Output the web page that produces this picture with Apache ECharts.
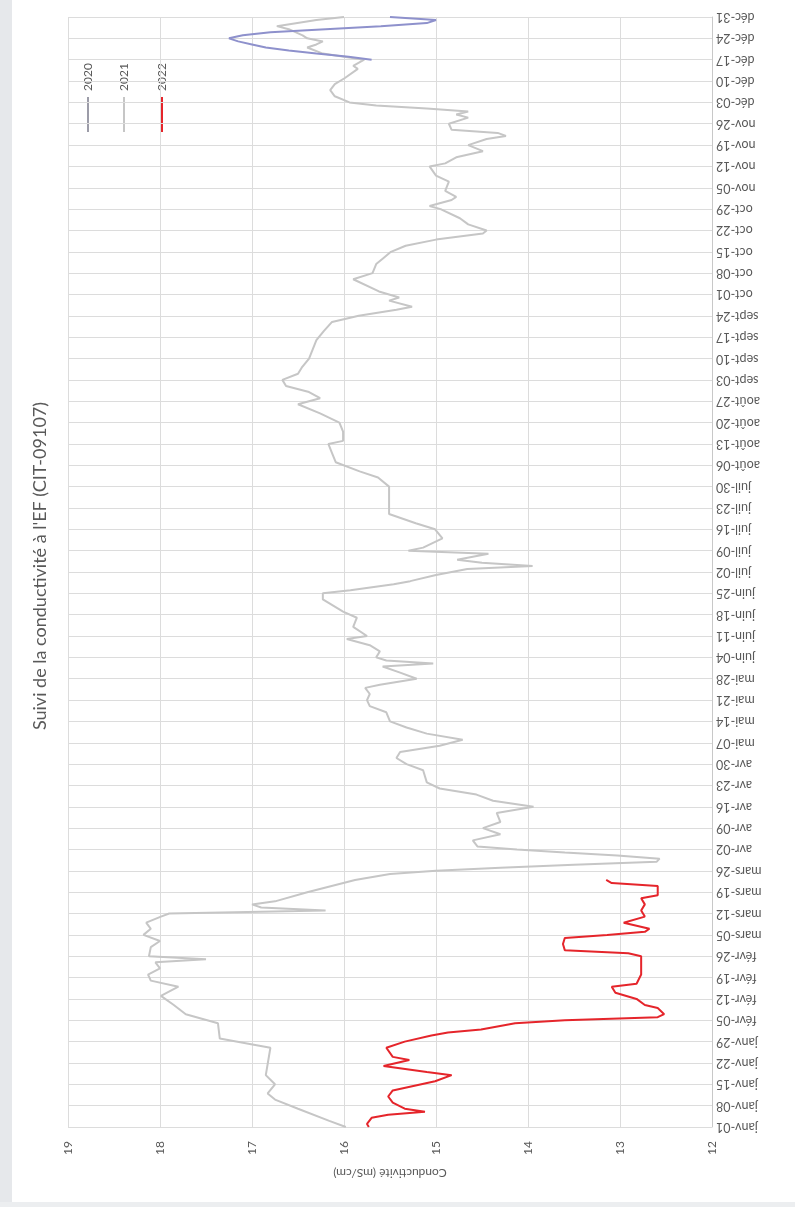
<!DOCTYPE html>
<html>
<head>
<meta charset="utf-8">
<script src="https://cdn.jsdelivr.net/npm/echarts@6/dist/echarts.min.js"></script>
<style>
  html, body { margin: 0; padding: 0; background: #ffffff; }
  #frameLeft { position: absolute; left: 0; top: 0; width: 12px; height: 1204px; background: #e6e8eb; }
  #frameBottom { position: absolute; left: 0; top: 1202px; width: 795px; height: 5px; background: #eceef0; }
  #chart { position: absolute; left: 18px; top: 0; width: 777px; height: 1200px; background: #ffffff; }
</style>
</head>
<body>
<div id="frameLeft"></div>
<div id="frameBottom"></div>
<div id="chart"></div>
<script>
// ---------- DATA ----------
const tickLabels = [
  'janv-01','janv-08','janv-15','janv-22','janv-29',
  'févr-05','févr-12','févr-19','févr-26',
  'mars-05','mars-12','mars-19','mars-26',
  'avr-02','avr-09','avr-16','avr-23','avr-30',
  'mai-07','mai-14','mai-21','mai-28',
  'juin-04','juin-11','juin-18','juin-25',
  'juil-02','juil-09','juil-16','juil-23','juil-30',
  'août-06','août-13','août-20','août-27',
  'sept-03','sept-10','sept-17','sept-24',
  'oct-01','oct-08','oct-15','oct-22','oct-29',
  'nov-05','nov-12','nov-19','nov-26',
  'déc-03','déc-10','déc-17','déc-24','déc-31'
];

const seriesNames = ['2020', '2021', '2022'];

// day of year (0 = janv-01) and conductivity (mS/cm)
const days2020 = [350, 351, 352, 353, 354, 355, 356, 357, 358, 359, 360, 361, 362, 363, 364];
const vals2020 = [15.7, 15.95, 16.3, 16.6, 16.85, 17.0, 17.15, 17.25, 17.1, 16.8, 16.2, 15.6, 15.1, 15.0, 15.5];

const days2021 = [
  0, 2, 6, 9, 11, 14, 17, 26, 27, 29, 34, 37, 40, 43, 46, 48, 50, 52, 54, 55, 56, 59, 61, 63, 65, 67, 69, 70,
  71, 72, 73, 74, 77, 81, 83, 84, 85, 86, 87, 88, 89, 90, 91, 92, 94, 96, 98, 100, 103, 105, 107, 109, 111,
  113, 117, 119, 121, 123, 125, 127, 129, 131, 133, 136, 138, 140, 142, 144, 145, 147, 149, 151, 152, 153,
  154, 156, 158, 160, 161, 164, 167, 169, 173, 175, 176, 178, 179, 181, 183, 184, 185, 186, 188, 189, 190,
  193, 196, 198, 201, 210, 213, 215, 218, 221, 224, 225, 228, 231, 234, 237, 239, 241, 243, 245, 247, 249,
  252, 255, 258, 261, 264, 266, 268, 269, 271, 272, 274, 278, 280, 283, 285, 287, 289, 291, 293, 294, 296,
  298, 301, 302, 304, 305, 307, 310, 312, 315, 316, 318, 320, 322, 324, 325, 326, 327, 329, 331, 332, 333,
  334, 335, 336, 338, 340, 342, 344, 347, 348, 350, 351, 352, 354, 355, 356, 357, 358, 360, 361, 363, 364
];
const vals2021 = [
  15.98, 16.16, 16.5, 16.75, 16.83, 16.75, 16.85, 16.8, 16.98, 17.35, 17.37, 17.72, 17.85, 17.99, 17.8, 18.1,
  18.13, 18.0, 18.05, 17.5, 18.12, 18.1, 18.0, 18.18, 18.1, 18.15, 17.99, 17.9,
  16.2, 16.9, 17.0, 16.75, 16.4, 15.88, 15.5, 15.0, 14.3, 13.5, 12.6, 12.57, 13.03, 13.6, 14.12, 14.55, 14.6,
  14.3, 14.49, 14.3, 14.34, 13.94, 14.38, 14.56, 14.96,
  15.1, 15.14, 15.32, 15.43, 15.39, 14.96, 14.71, 15.1, 15.32, 15.5, 15.54, 15.72, 15.75, 15.72, 15.77, 15.61,
  15.21, 15.39, 15.58, 15.03, 15.54,
  15.65, 15.61, 15.72, 15.97, 15.75, 15.9, 15.86, 16.01, 16.23, 16.23, 15.93, 15.46, 15.28, 15.0, 14.66, 13.95,
  14.5, 14.77, 14.43, 15.3, 15.14,
  14.93, 15.01, 15.22, 15.51, 15.51, 15.63, 15.83, 16.09, 16.13, 16.17, 16.01, 16.01, 16.05, 16.26, 16.5, 16.26,
  16.38, 16.63, 16.67, 16.5, 16.46,
  16.38, 16.34, 16.3, 16.22, 16.13, 15.84, 15.43, 15.26, 15.51, 15.4, 15.62, 15.9, 15.69, 15.65, 15.57, 15.49,
  15.33, 15.0, 14.49, 14.45, 14.65,
  14.74, 14.95, 15.07, 14.83, 14.78, 14.9, 14.86, 15.0, 15.07, 14.9, 14.78, 14.49, 14.65, 14.45, 14.24, 14.33,
  14.83, 14.86, 14.65, 14.78, 14.65,
  15.1, 15.65, 15.94, 16.1, 16.15, 16.1, 15.99, 15.85, 15.9, 15.78, 16.0, 16.23, 16.4, 16.3, 16.23, 16.4, 16.45,
  16.6, 16.73, 16.3, 16.0
];

const days2022 = [
  0, 1, 3, 4, 5, 6, 8, 10, 12, 15, 17, 18, 20, 22, 23, 26, 28, 30, 31, 32, 34, 35, 36, 37, 39, 40, 42, 44, 46,
  47, 50, 56, 57, 58, 60, 62, 63, 64, 65, 67, 69, 71, 73, 75, 76, 79, 80, 81
];
const vals2022 = [
  15.73, 15.75, 15.7, 15.52, 15.12, 15.34, 15.47, 15.52, 15.47, 15.01, 14.83, 15.1, 15.57, 15.29, 15.47, 15.54,
  15.34, 15.05, 14.87, 14.51, 14.14, 13.6, 12.59, 12.52, 12.59, 12.73, 12.82, 13.05, 13.09,
  12.82, 12.77, 12.77, 12.91, 13.6, 13.62, 13.6, 13.14, 12.73, 12.68, 12.96, 12.73, 12.77, 12.73, 12.77, 12.59,
  12.59, 13.09, 13.15
];

const valueTicks = [12, 13, 14, 15, 16, 17, 18, 19];

// ---------- CHART ----------
const colors = { '2020': '#8e91cc', '2021': '#c6c6c6', '2022': '#e5252b' };
const FONT = 'Lato, "Open Sans", sans-serif';
const TXT = '#595959';

function pairs(days, vals) { return days.map((d, i) => [vals[i], d]); }

const chart = echarts.init(document.getElementById('chart'));

const legendX = [70, 106, 144];
const legendGraphics = [];
seriesNames.forEach((n, i) => {
  legendGraphics.push({
    type: 'line',
    shape: { x1: legendX[i], y1: 97, x2: legendX[i], y2: 132 },
    style: { stroke: n === '2020' ? '#9c9ca8' : colors[n], lineWidth: 2 }
  });
  legendGraphics.push({
    type: 'text', x: legendX[i], y: 77, rotation: Math.PI / 2,
    style: { text: n, font: '12px ' + FONT, fill: TXT, align: 'center', verticalAlign: 'middle' }
  });
});

chart.setOption({
  animation: false,
  backgroundColor: '#ffffff',
  grid: { left: 50, right: 83, top: 17, bottom: 73, containLabel: false },
  xAxis: {
    type: 'value', inverse: true, min: 12, max: 19, interval: 1,
    axisLine: { show: false }, axisTick: { show: false },
    axisLabel: { rotate: 90, color: TXT, fontSize: 12, fontFamily: FONT, margin: 14,
      formatter: v => valueTicks.includes(v) ? String(v) : '' },
    splitLine: { show: true, lineStyle: { color: '#dcdcdc', width: 1 } },
    name: 'Conductivité (mS/cm)', nameLocation: 'middle', nameGap: 40, nameRotate: 180,
    nameTextStyle: { color: TXT, fontSize: 12, fontFamily: FONT }
  },
  yAxis: {
    type: 'value', min: 0, max: 364, interval: 7, position: 'right',
    axisLine: { show: true, lineStyle: { color: '#c8c8c8', width: 1 } },
    axisTick: { show: false },
    axisLabel: { rotate: 180, color: TXT, fontSize: 12.5, fontFamily: FONT, margin: 4,
      formatter: v => tickLabels[Math.round(v / 7)] || '' },
    splitLine: { show: true, lineStyle: { color: '#dcdcdc', width: 1 } }
  },
  graphic: [
    {
      type: 'text', x: 22, y: 566, rotation: Math.PI / 2,
      style: { text: "Suivi de la conductivité à l'EF (CIT-09107)", font: '18px ' + FONT,
        fill: TXT, align: 'center', verticalAlign: 'middle' }
    }
  ].concat(legendGraphics),
  series: [
    { name: '2020', type: 'line', data: pairs(days2020, vals2020), showSymbol: false, symbol: 'none',
      lineStyle: { color: colors['2020'], width: 2 }, itemStyle: { color: colors['2020'] }, z: 3 },
    { name: '2021', type: 'line', data: pairs(days2021, vals2021), showSymbol: false, symbol: 'none',
      lineStyle: { color: colors['2021'], width: 2 }, itemStyle: { color: colors['2021'] }, z: 2 },
    { name: '2022', type: 'line', data: pairs(days2022, vals2022), showSymbol: false, symbol: 'none',
      lineStyle: { color: colors['2022'], width: 2 }, itemStyle: { color: colors['2022'] }, z: 4 }
  ]
});
</script>
</body>
</html>
